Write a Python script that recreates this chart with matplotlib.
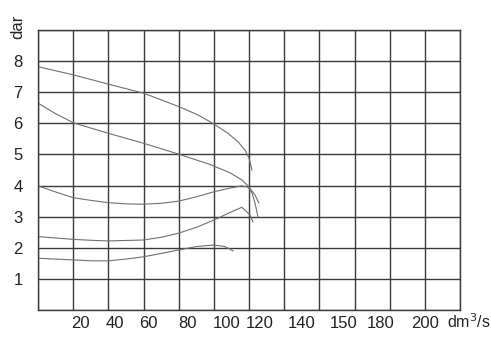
import numpy as np
import matplotlib
matplotlib.use("Agg")
import matplotlib.pyplot as plt

plt.rcParams['font.family'] = ['Liberation Sans', 'DejaVu Sans']

# flow (dm3/s) and head (bar)
q1 = [0, 20, 40, 60, 80, 91, 100, 108, 113.7, 117.7, 120, 121.7]
h1 = [7.82, 7.56, 7.26, 6.97, 6.54, 6.27, 5.98, 5.68, 5.41, 5.14, 4.89, 4.50]

q2 = [0, 9.7, 20, 40, 60, 80, 97.7, 109.2, 116, 119.4, 123.4, 125.5]
h2 = [6.65, 6.32, 6.02, 5.68, 5.36, 5.01, 4.68, 4.41, 4.18, 3.99, 3.70, 3.45]

q3 = [0, 9.7, 20, 30.5, 40, 50.4, 60, 70.3, 80, 90.2, 100, 110.2, 115.9,
      119.4, 121.7, 123.4, 125.1]
h3 = [3.99, 3.80, 3.61, 3.52, 3.45, 3.41, 3.40, 3.43, 3.50, 3.64, 3.80, 3.93,
      3.99, 3.95, 3.76, 3.44, 2.99]

q4 = [0, 20, 30.5, 40, 60, 70.3, 80, 90.2, 100, 110.2, 115.9, 118.7, 120.6, 122.3]
h4 = [2.36, 2.27, 2.24, 2.22, 2.25, 2.34, 2.47, 2.66, 2.89, 3.16, 3.30, 3.16,
      3.05, 2.83]

q5 = [1, 20, 30.5, 40, 50.4, 60, 70.3, 80, 90.2, 100, 106.3, 110.9]
h5 = [1.66, 1.61, 1.58, 1.58, 1.64, 1.71, 1.82, 1.93, 2.04, 2.09, 2.04, 1.90]

curves = [(q1, h1), (q2, h2), (q3, h3), (q4, h4), (q5, h5)]

# tick labels (placed where the original puts them, not on the grid)
x_label_pos = [24, 44, 63, 85, 107, 126, 150, 174, 195, 220]
x_labels = ['20', '40', '60', '80', '100', '120', '140', '150', '180', '200']
y_ticks = [1, 2, 3, 4, 5, 6, 7, 8]

fig = plt.figure(figsize=(4.91, 3.37), dpi=100)
ax = fig.add_axes([38/491, 27/337, 422/491, 280/337])

grid_c = '#3a3a3a'
for gx in range(0, 241, 20):
    ax.axvline(gx, color=grid_c, lw=1.0, zorder=1)
for gy in range(0, 10):
    ax.axhline(gy, color=grid_c, lw=1.0, zorder=1)

for q, h in curves:
    ax.plot(q, h, color='#707070', lw=0.8, zorder=2)

ax.set_xlim(0, 240)
ax.set_ylim(0, 9)
ax.set_xticks(x_label_pos)
ax.set_xticklabels(x_labels)
ax.set_yticks(y_ticks)
ax.tick_params(length=0, labelsize=12, colors='#222222')
ax.tick_params(axis='x', pad=4)
ax.tick_params(axis='y', pad=11)
for s in ax.spines.values():
    s.set_color(grid_c)
    s.set_linewidth(1.0)

fig.text(18/491, 1 - 27/337, 'dar', rotation=90, ha='center', va='center',
         fontsize=12, color='#222222')
fig.text(447/491, 1 - 322/337, 'dm$^3$/s', ha='left', va='center',
         fontsize=11.5, color='#222222')

fig.savefig('out.png', dpi=100, facecolor='white')
